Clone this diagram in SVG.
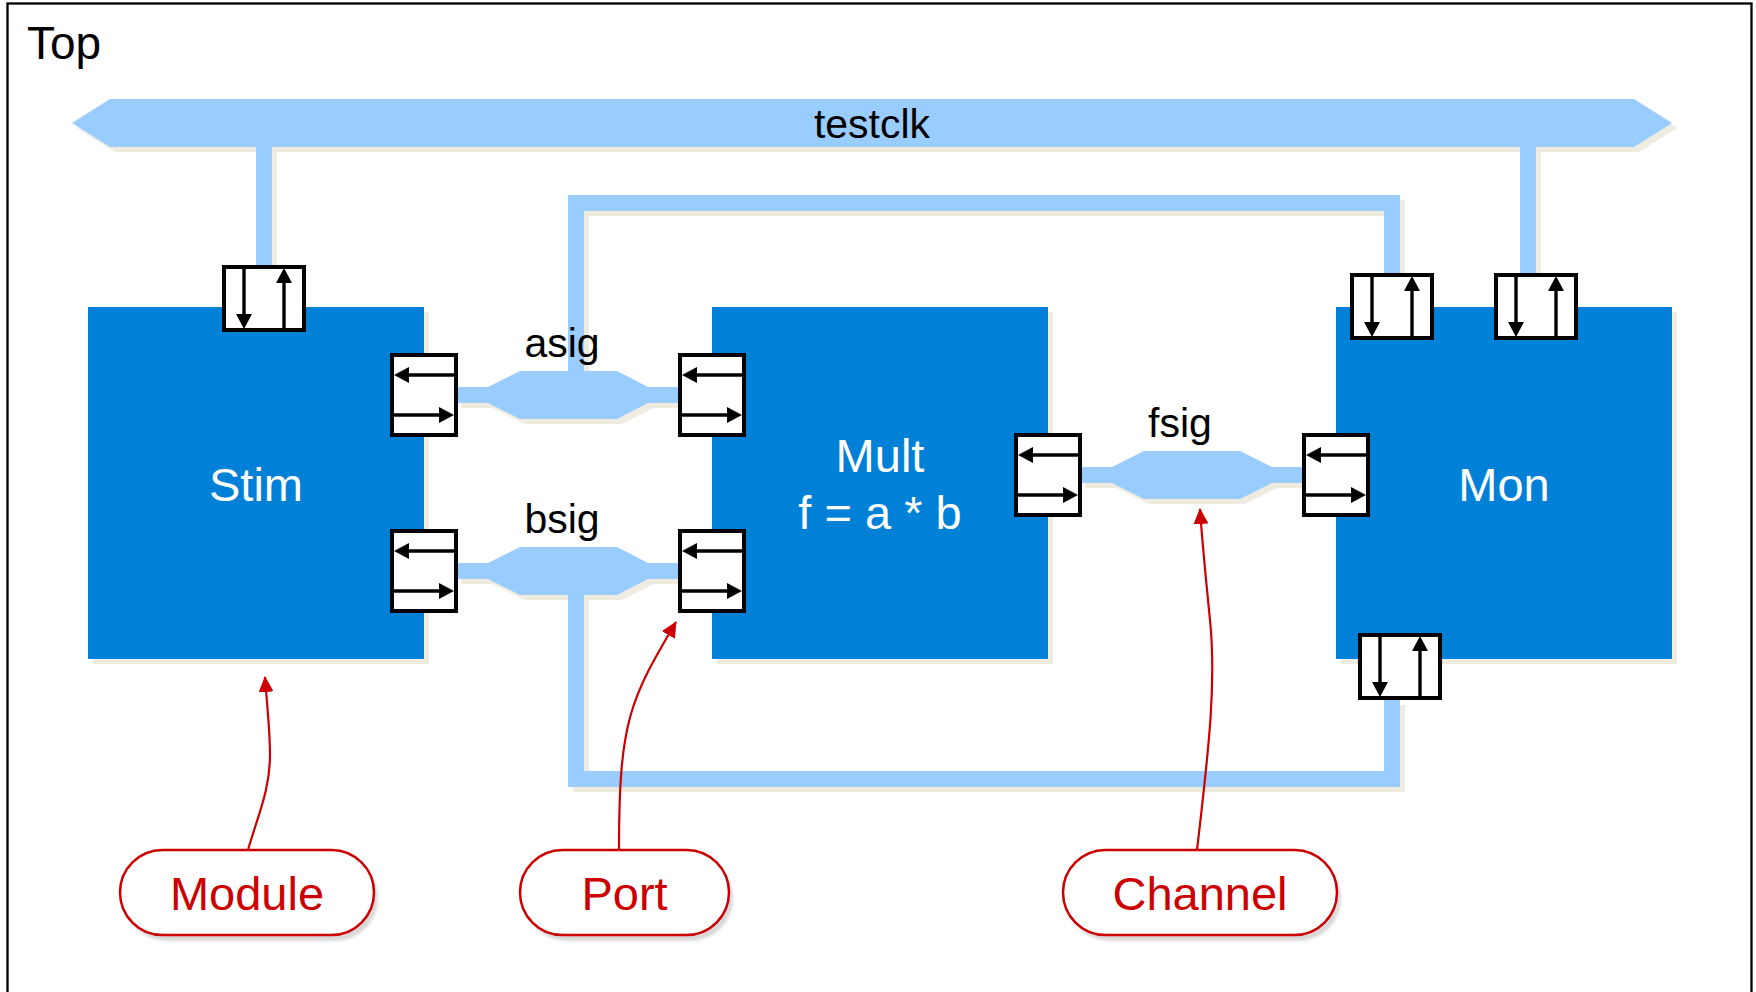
<svg xmlns="http://www.w3.org/2000/svg" xmlns:xlink="http://www.w3.org/1999/xlink" width="1756" height="992" viewBox="0 0 1756 992">
<style>
.blk{fill:#0081D7}
.shd{fill:#EEECE1}
.shdl{fill:none;stroke:#EEECE1;stroke-width:16}
.ch{fill:#99CCFF}
.chl{fill:none;stroke:#99CCFF;stroke-width:16}
.wt{font-family:"Liberation Sans",Arial,sans-serif;font-size:47px;fill:#FFFFFF;text-anchor:middle}
.bt{font-family:"Liberation Sans",Arial,sans-serif;font-size:41px;fill:#000000;text-anchor:middle}
.rt{font-family:"Liberation Sans",Arial,sans-serif;font-size:47px;fill:#CC0000;text-anchor:middle}
.pill{fill:#FFFFFF;stroke:#CC0000;stroke-width:2.5}
.pshd{fill:#D9D9D9;filter:url(#blur)}
.ann{fill:none;stroke:#CC0000;stroke-width:2.2;marker-end:url(#ra)}
.pb{fill:#FFFFFF;stroke:#000000;stroke-width:4}
.pl{stroke:#000000;stroke-width:3.4}
</style>
<defs>
<filter id="blur" x="-10%" y="-10%" width="120%" height="130%"><feGaussianBlur stdDeviation="1.5"/></filter>
<marker id="ra" markerUnits="userSpaceOnUse" markerWidth="16" markerHeight="15" refX="15" refY="7.5" orient="auto" viewBox="0 0 16 15">
<path d="M0,0 L16,7.5 L0,15 z" fill="#CC0000"/>
</marker>
<g id="portV">
<rect class="pb" x="2" y="2" width="80" height="63"/>
<line class="pl" x1="22" y1="4" x2="22" y2="50"/>
<polygon points="14,49 30,49 22,64"/>
<line class="pl" x1="62" y1="63" x2="62" y2="18"/>
<polygon points="54,18 70,18 62,3"/>
</g>
<g id="portH">
<rect class="pb" x="2" y="2" width="64" height="80"/>
<line class="pl" x1="64" y1="22" x2="18" y2="22"/>
<polygon points="19,14 19,30 4,22"/>
<line class="pl" x1="4" y1="62" x2="50" y2="62"/>
<polygon points="49,54 49,70 64,62"/>
</g>
</defs>
<rect x="0" y="0" width="1756" height="992" fill="#FFFFFF"/>
<g id="Top">
<rect x="7.5" y="3.5" width="1744" height="1000" fill="none" stroke="#000000" stroke-width="2.3"/>
<text x="27" y="59" style="font-family:'Liberation Sans',Arial,sans-serif;font-size:46px;fill:#000000">Top</text>
</g>
<g id="shadows" transform="translate(5,5)">
<polygon class="shd" points="72,123 110,99 1634,99 1672,123 1634,147 110,147"/>
<rect class="shd" x="256" y="147" width="16" height="119"/>
<rect class="shd" x="1520" y="147" width="16" height="126"/>
<path class="shdl" d="M576,371 V203 H1392 V273"/>
<path class="shdl" d="M576,595 V779 H1392 V700"/>
<polygon class="shd" points="456,387 488,387 520,371 617,371 648,387 680,387 680,403 648,403 617,419 520,419 488,403 456,403"/>
<polygon class="shd" points="456,563 488,563 520,547 617,547 648,563 680,563 680,579 648,579 617,595 520,595 488,579 456,579"/>
<polygon class="shd" points="1080,467 1112,467 1144,451 1240,451 1272,467 1304,467 1304,483 1272,483 1240,499 1144,499 1112,483 1080,483"/>
<rect class="shd" x="88" y="307" width="336" height="352"/>
<rect class="shd" x="712" y="307" width="336" height="352"/>
<rect class="shd" x="1336" y="307" width="336" height="352"/>
</g>
<g id="connectors">
<g id="testclk">
<polygon class="ch" points="72,123 110,99 1634,99 1672,123 1634,147 110,147"/>
<rect class="ch" x="256" y="146" width="16" height="122"/>
<rect class="ch" x="1520" y="146" width="16" height="129"/>
<text class="bt" x="872" y="138">testclk</text>
</g>
<g id="asig">
<path class="chl" d="M576,372 V203 H1392 V275"/>
<polygon class="ch" points="456,387 488,387 520,371 617,371 648,387 680,387 680,403 648,403 617,419 520,419 488,403 456,403"/>
<text class="bt" x="562" y="357">asig</text>
</g>
<g id="bsig">
<path class="chl" d="M576,594 V779 H1392 V698"/>
<polygon class="ch" points="456,563 488,563 520,547 617,547 648,563 680,563 680,579 648,579 617,595 520,595 488,579 456,579"/>
<text class="bt" x="562" y="533">bsig</text>
</g>
<g id="fsig">
<polygon class="ch" points="1080,467 1112,467 1144,451 1240,451 1272,467 1304,467 1304,483 1272,483 1240,499 1144,499 1112,483 1080,483"/>
<text class="bt" x="1180" y="437">fsig</text>
</g>
</g>
<g id="Stim">
<rect class="blk" x="88" y="307" width="336" height="352"/>
<text class="wt" x="256" y="501">Stim</text>
</g>
<g id="Mult">
<rect class="blk" x="712" y="307" width="336" height="352"/>
<text class="wt" x="880" y="472">Mult</text>
<text class="wt" x="880" y="529">f = a * b</text>
</g>
<g id="Mon">
<rect class="blk" x="1336" y="307" width="336" height="352"/>
<text class="wt" x="1504" y="501">Mon</text>
</g>
<g id="ports">
<use id="stim_clk" xlink:href="#portV" href="#portV" transform="translate(222,265)"/>
<use id="stim_a" xlink:href="#portH" href="#portH" transform="translate(390,353)"/>
<use id="stim_b" xlink:href="#portH" href="#portH" transform="translate(390,529)"/>
<use id="mult_a" xlink:href="#portH" href="#portH" transform="translate(678,353)"/>
<use id="mult_b" xlink:href="#portH" href="#portH" transform="translate(678,529)"/>
<use id="mult_f" xlink:href="#portH" href="#portH" transform="translate(1014,433)"/>
<use id="mon_f" xlink:href="#portH" href="#portH" transform="translate(1302,433)"/>
<use id="mon_a" xlink:href="#portV" href="#portV" transform="translate(1350,273)"/>
<use id="mon_clk" xlink:href="#portV" href="#portV" transform="translate(1494,273)"/>
<use id="mon_b" xlink:href="#portV" href="#portV" transform="translate(1358,633)"/>
</g>
<g id="annotations">
<path class="ann" d="M248,850 C258,815 270,790 270,755 C270,730 267,705 265,677"/>
<path class="ann" d="M619,850 C619,720 630,700 676,622"/>
<path class="ann" d="M1197,850 C1210,740 1216,680 1210,620 C1206,580 1202,540 1200,509"/>
</g>
<g id="Module">
<rect class="pshd" x="124" y="856" width="254" height="85" rx="42.5"/>
<rect class="pill" x="120" y="850" width="254" height="85" rx="42.5"/>
<text class="rt" x="247" y="910">Module</text>
</g>
<g id="Port">
<rect class="pshd" x="524" y="856" width="209" height="85" rx="42.5"/>
<rect class="pill" x="520" y="850" width="209" height="85" rx="42.5"/>
<text class="rt" x="624.5" y="910">Port</text>
</g>
<g id="Channel">
<rect class="pshd" x="1067" y="856" width="274" height="85" rx="42.5"/>
<rect class="pill" x="1063" y="850" width="274" height="85" rx="42.5"/>
<text class="rt" x="1200" y="910">Channel</text>
</g>
</svg>
